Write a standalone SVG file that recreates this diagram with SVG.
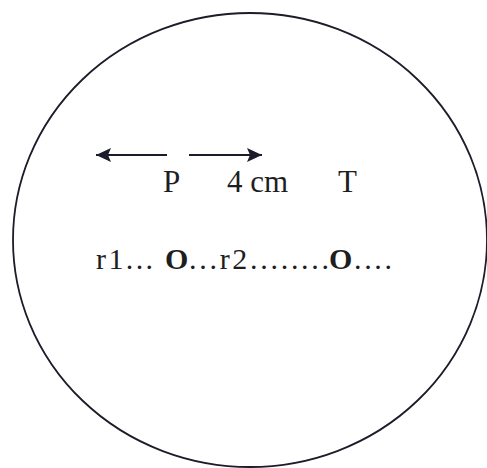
<svg xmlns="http://www.w3.org/2000/svg" width="487" height="468" viewBox="0 0 487 468">
<style>
.lbl{font-family:"Liberation Serif","Times New Roman",serif;font-size:31px;fill:#1e1e1e}
.row{font-size:30px}
.b{font-weight:bold}
.conn{stroke:#1c1c2a;stroke-width:2.2;fill:none}
</style>
<defs>
<marker id="ah" markerUnits="userSpaceOnUse" markerWidth="16" markerHeight="15" refX="15" refY="7" orient="auto">
<path d="M0,0 L15,7 L0,14 L3,7 z" fill="#1c1c2a"/>
</marker>
</defs>
<rect width="487" height="468" fill="#fff"/>
<g id="circle">
<ellipse cx="250" cy="240" rx="237" ry="227" fill="none" stroke="#1c1c2a" stroke-width="1.8"/>
</g>
<g id="connectors">
<line class="conn" x1="167" y1="155" x2="96" y2="155" marker-end="url(#ah)"/>
<line class="conn" x1="189" y1="155" x2="262" y2="155" marker-end="url(#ah)"/>
</g>
<g id="label-P"><text class="lbl" x="163" y="192">P</text></g>
<g id="label-4cm"><text class="lbl" x="227" y="192">4 cm</text></g>
<g id="label-T"><text class="lbl" x="338" y="192">T</text></g>
<g id="row">
<text class="lbl row" y="269"><tspan x="96" textLength="57" lengthAdjust="spacing">r1...</tspan><tspan class="b" x="165">O</tspan><tspan x="189" textLength="140" lengthAdjust="spacing">...r2........</tspan><tspan class="b" x="329">O</tspan><tspan x="354" textLength="38" lengthAdjust="spacing">....</tspan></text>
</g>
</svg>
